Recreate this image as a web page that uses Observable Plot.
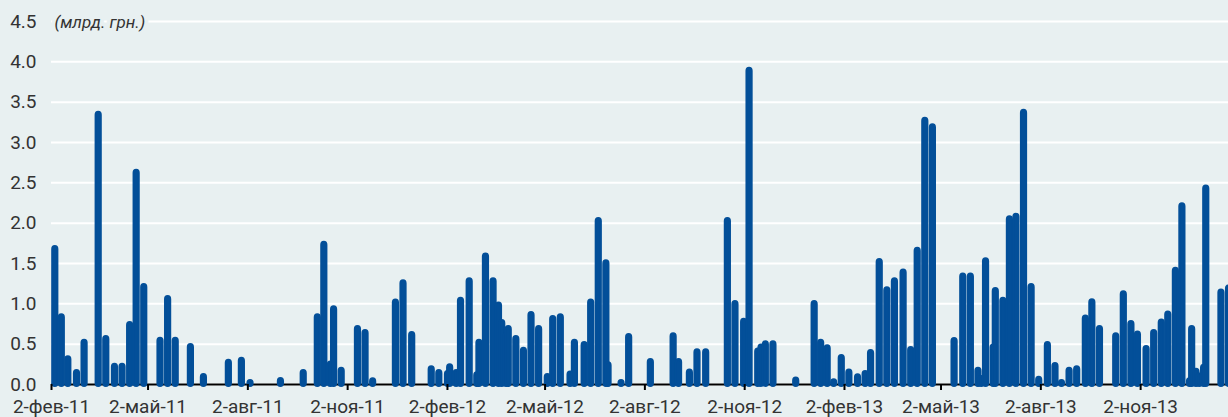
<!DOCTYPE html>
<html>
<head>
<meta charset="utf-8">
<script src="https://cdn.jsdelivr.net/npm/d3@7"></script>
<script src="https://cdn.jsdelivr.net/npm/@observablehq/plot@0.6"></script>
<style>
  html, body { margin: 0; padding: 0; background: #e8f0f1; overflow: hidden; }
</style>
</head>
<body>
<div id="chart"></div>
<script>
// Auction dates (start of each bar) and volumes, bn UAH
const dates = [
  "2011-02-02","2011-02-08","2011-02-14","2011-02-22","2011-03-01","2011-03-14","2011-03-21","2011-03-29","2011-04-05","2011-04-12","2011-04-18","2011-04-25",
  "2011-05-10","2011-05-17","2011-05-24","2011-06-07","2011-06-19","2011-07-12","2011-07-24","2011-08-01","2011-08-29","2011-09-19",
  "2011-10-02","2011-10-08","2011-10-14","2011-10-17","2011-10-24","2011-11-08","2011-11-15","2011-11-22",
  "2011-12-13","2011-12-20","2011-12-28",
  "2012-01-15","2012-01-22","2012-01-30","2012-02-01","2012-02-07","2012-02-11","2012-02-19","2012-02-26","2012-02-28","2012-03-05","2012-03-12","2012-03-17","2012-03-20","2012-03-24","2012-03-26","2012-04-02","2012-04-09","2012-04-16","2012-04-23","2012-05-01","2012-05-06","2012-05-13","2012-05-22","2012-05-26","2012-06-04","2012-06-10","2012-06-17","2012-06-24","2012-06-26","2012-07-08","2012-07-15",
  "2012-08-04","2012-08-25","2012-08-30","2012-09-09","2012-09-16","2012-09-24","2012-10-14","2012-10-21","2012-10-29","2012-11-03","2012-11-11","2012-11-14","2012-11-18","2012-11-25","2012-12-16",
  "2013-01-02","2013-01-08","2013-01-14","2013-01-20","2013-01-27","2013-02-03","2013-02-11","2013-02-18","2013-02-23","2013-03-03","2013-03-10","2013-03-17","2013-03-25","2013-04-01","2013-04-07","2013-04-14","2013-04-21",
  "2013-05-11","2013-05-19","2013-05-26","2013-06-02","2013-06-05","2013-06-09","2013-06-16","2013-06-18","2013-06-25","2013-07-01","2013-07-07","2013-07-14","2013-07-21","2013-07-28","2013-08-05","2013-08-12","2013-08-18","2013-08-25","2013-09-01","2013-09-09","2013-09-15","2013-09-22",
  "2013-10-07","2013-10-14","2013-10-21","2013-10-27","2013-11-04","2013-11-11","2013-11-18","2013-11-24","2013-12-01","2013-12-07","2013-12-14","2013-12-16","2013-12-20","2013-12-23","2013-12-27","2013-12-29","2014-01-12","2014-01-19"
];
const values = [
  1.71,0.865,0.345,0.175,0.55,3.376,0.595,0.25,0.25,0.77,2.657,1.24,
  0.574,1.09,0.574,0.495,0.125,0.30,0.325,0.05,0.075,0.175,
  0.865,1.763,0.28,0.965,0.2,0.72,0.67,0.07,
  1.048,1.285,0.645,
  0.22,0.175,0.16,0.245,0.175,1.07,1.31,0.145,0.55,1.617,1.31,1.01,0.794,0.63,0.72,0.595,0.45,0.894,0.72,0.125,0.844,0.865,0.154,0.55,0.52,1.048,2.058,1.534,0.27,0.05,0.62,
  0.31,0.63,0.31,0.18,0.43,0.43,2.058,1.03,0.81,3.92,0.44,0.49,0.53,0.53,0.08,
  1.03,0.55,0.48,0.06,0.36,0.18,0.12,0.16,0.42,1.55,1.2,1.31,1.42,0.46,1.69,3.3,3.22,
  0.57,1.37,1.37,0.2,0.1,1.56,0.49,1.19,1.07,2.08,2.11,3.4,1.24,0.09,0.52,0.26,0.05,0.2,0.22,0.85,1.05,0.72,
  0.63,1.15,0.78,0.65,0.47,0.67,0.8,0.9,1.44,2.24,0.07,0.72,0.19,0.13,0.24,2.46,1.17,1.22
];
const tickDates = ["2011-02-02","2011-05-02","2011-08-02","2011-11-02","2012-02-02","2012-05-02","2012-08-02","2012-11-02","2013-02-02","2013-05-02","2013-08-02","2013-11-02"];
const tickLabels = ["2-фев-11","2-май-11","2-авг-11","2-ноя-11","2-фев-12","2-май-12","2-авг-12","2-ноя-12","2-фев-13","2-май-13","2-авг-13","2-ноя-13"];
const yTicks = [0, 0.5, 1, 1.5, 2, 2.5, 3, 3.5, 4, 4.5];
const unitLabel = "(млрд. грн.)";
const xDomain = ["2011-02-02", "2014-01-22"];

const bg = "#e8f0f1";
const barColor = "#034f99";
const data = dates.map((d, i) => ({date: new Date(d), value: values[i]}));
const labelOf = new Map(tickDates.map((d, i) => [d, tickLabels[i]]));

const chart = Plot.plot({
  width: 1228,
  height: 417,
  marginLeft: 51,
  marginRight: 0,
  marginTop: 21,
  marginBottom: 33,
  style: {background: bg, fontFamily: "Roboto, 'Liberation Sans', sans-serif", fontSize: "19px", color: "#333"},
  x: {type: "utc", domain: xDomain.map(d => new Date(d))},
  y: {domain: [0, 4.5]},
  marks: [
    Plot.gridY(yTicks, {stroke: "#ffffff", strokeOpacity: 1, strokeWidth: 2}),
    Plot.axisY(yTicks, {tickSize: 0, tickPadding: 15, dy: 0, tickFormat: d => d.toFixed(1), label: null, fill: "#333"}),
    Plot.ruleY([0], {stroke: "#000", strokeWidth: 2}),
    Plot.rectY(data, {
      x1: "date",
      x2: d => d3.utcDay.offset(d.date, 7),
      y: "value",
      fill: barColor,
      stroke: barColor,
      strokeWidth: 2,
      rx: 3,
      insetLeft: 1.2,
      insetRight: 1.2,
      insetTop: 0,
      insetBottom: -2
    }),
    Plot.axisX(tickDates.map(d => new Date(d)), {
      tickSize: 6, tickPadding: 9, stroke: "#000", strokeWidth: 2,
      tickFormat: d => labelOf.get(d.toISOString().slice(0, 10)),
      label: null, fill: "#333"
    }),
    Plot.text([unitLabel], {
      x: () => new Date(xDomain[0]), y: () => 4.5,
      text: d => d, textAnchor: "start", dx: 3, dy: 1,
      fontStyle: "italic", fontSize: 17, fill: "#333",
      stroke: bg, strokeWidth: 8
    })
  ]
});
document.getElementById("chart").appendChild(chart);
</script>
</body>
</html>
